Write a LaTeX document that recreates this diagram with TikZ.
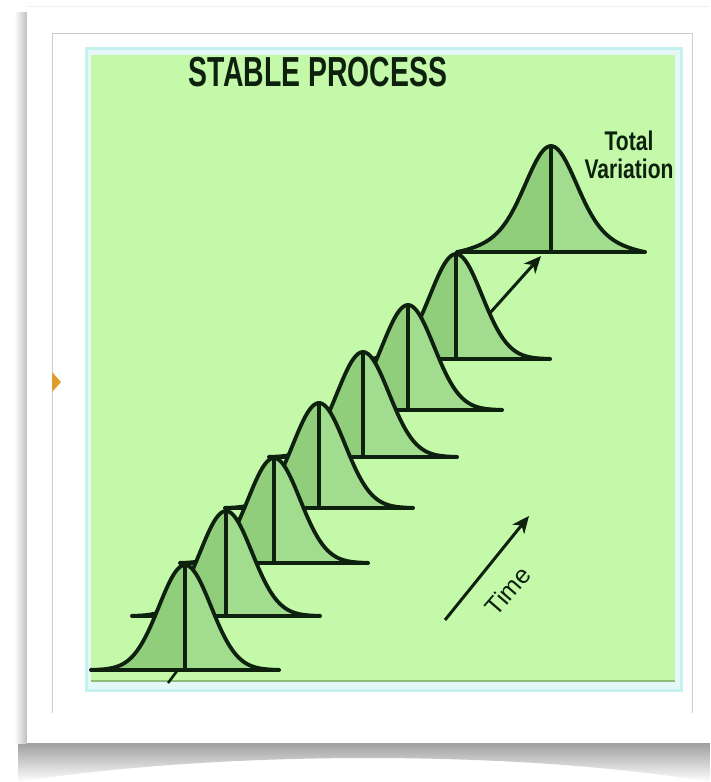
\documentclass[tikz,border=0pt]{standalone}
\usepackage{fontspec}
\setmainfont{Liberation Sans}
\usetikzlibrary{arrows.meta}
\definecolor{bg}{RGB}{196,249,170}
\definecolor{cyanb}{RGB}{196,240,240}
\definecolor{fillL}{RGB}{144,206,124}
\definecolor{fillR}{RGB}{162,220,142}
\definecolor{ink}{RGB}{14,32,14}
\definecolor{orng}{RGB}{222,158,40}
\definecolor{panelline}{RGB}{140,188,120}
\tikzset{
  curveline/.style={draw=ink, line width=3.8pt, line join=round, line cap=round},
  arr/.style={draw=ink, line width=3pt, -{Stealth[length=17pt,width=15pt,inset=5pt]}},
  titletext/.style={text=ink, inner sep=0pt, font=\fontsize{42}{42}\selectfont\bfseries, xscale=0.676},
  lbltext/.style={text=ink, inner sep=0pt, align=center, font=\fontsize{27}{28}\selectfont\bfseries, xscale=0.78},
  timetext/.style={text=ink, inner sep=0pt, font=\fontsize{25}{25}\selectfont},
}
% small bell: #1 = centre x, #2 = baseline y
\newcommand\mybell[2]{%
  \fill[fillL] plot[domain=-94:0,samples=50] ({#1+\x},{#2-105*exp(-((\x)*(\x))/1352)}) -- (#1,#2) -- cycle;
  \fill[fillR] plot[domain=0:94,samples=50] ({#1+\x},{#2-105*exp(-((\x)*(\x))/1352)}) -- (#1,#2) -- cycle;
  \draw[curveline] plot[domain=-94:94,samples=90] ({#1+\x},{#2-105*exp(-((\x)*(\x))/1352)});
  \draw[curveline] (#1,#2-105) -- (#1,#2);
  \draw[curveline] (#1-94,#2) -- (#1+94,#2);
}
% wide bell (total variation)
\newcommand\mybigbell[2]{%
  \fill[fillL] plot[domain=-94:0,samples=60] ({#1+\x},{#2-110.9*(0.7*exp(-((\x)*(\x))/1152)+0.3*exp(-((\x)*(\x))/4608)-0.0444)}) -- (#1,#2) -- cycle;
  \fill[fillR] plot[domain=0:94,samples=60] ({#1+\x},{#2-110.9*(0.7*exp(-((\x)*(\x))/1152)+0.3*exp(-((\x)*(\x))/4608)-0.0444)}) -- (#1,#2) -- cycle;
  \draw[curveline] plot[domain=-94:94,samples=100] ({#1+\x},{#2-110.9*(0.7*exp(-((\x)*(\x))/1152)+0.3*exp(-((\x)*(\x))/4608)-0.0444)});
  \draw[curveline] (#1,#2-106) -- (#1,#2);
  \draw[curveline] (#1-94,#2) -- (#1+94,#2);
}
\begin{document}
\begin{tikzpicture}[x=1pt,y=-1pt]
\useasboundingbox (0,0) rectangle (710,782);
\fill[white] (0,0) rectangle (710,782);
% card shadow
\shade[top color=gray!75, bottom color=white] (18,743) -- (710,743) -- (710,782) .. controls (520,750) and (220,750) .. (18,782) -- cycle;
\shade[left color=white, right color=gray!50] (14,12) rectangle (27,743);
% card
\fill[white] (27,6) rectangle (710,743);
\draw[gray!12, line width=1pt] (27,6) -- (710,6);
\draw[gray!40, line width=1pt] (52,713) -- (52,33) -- (692,33) -- (692,713);
\fill[orng] (52,372) -- (61,382) -- (52,392) -- cycle;
% panel
\fill[cyanb] (85,47) rectangle (683,692);
\fill[white!55!cyanb] (88,50) rectangle (680,689);
\fill[bg] (91,55) rectangle (675,682);
\draw[panelline, line width=1.5pt] (91,681) -- (675,681);
% title
\node[titletext] (title) at (318,72) {STABLE PROCESS};
% curves, back to front
\mybigbell{551}{252}
\mybell{456}{359}
\mybell{408}{410}
\mybell{363}{457}
\mybell{319}{508}
\mybell{274}{563}
\mybell{226}{616}
\mybell{185}{670}
% small tick under front curve
\coordinate (tickA) at (168,683);
\coordinate (tickB) at (177,671);
\draw[ink, line width=2.6pt] (tickA) -- (tickB);
% arrow to total variation
\coordinate (shiftTail) at (490,313);
\coordinate (shiftHead) at (541,256);
\draw[arr] (shiftTail) -- (shiftHead);
\node[lbltext] (tv) at (629,155) {Total\\Variation};
% time arrow
\coordinate (timeTail) at (445,620);
\coordinate (timeHead) at (529,516);
\draw[arr] (timeTail) -- (timeHead);
\node[timetext, rotate=49] (time) at (508,591) {Time};
\end{tikzpicture}
\end{document}
